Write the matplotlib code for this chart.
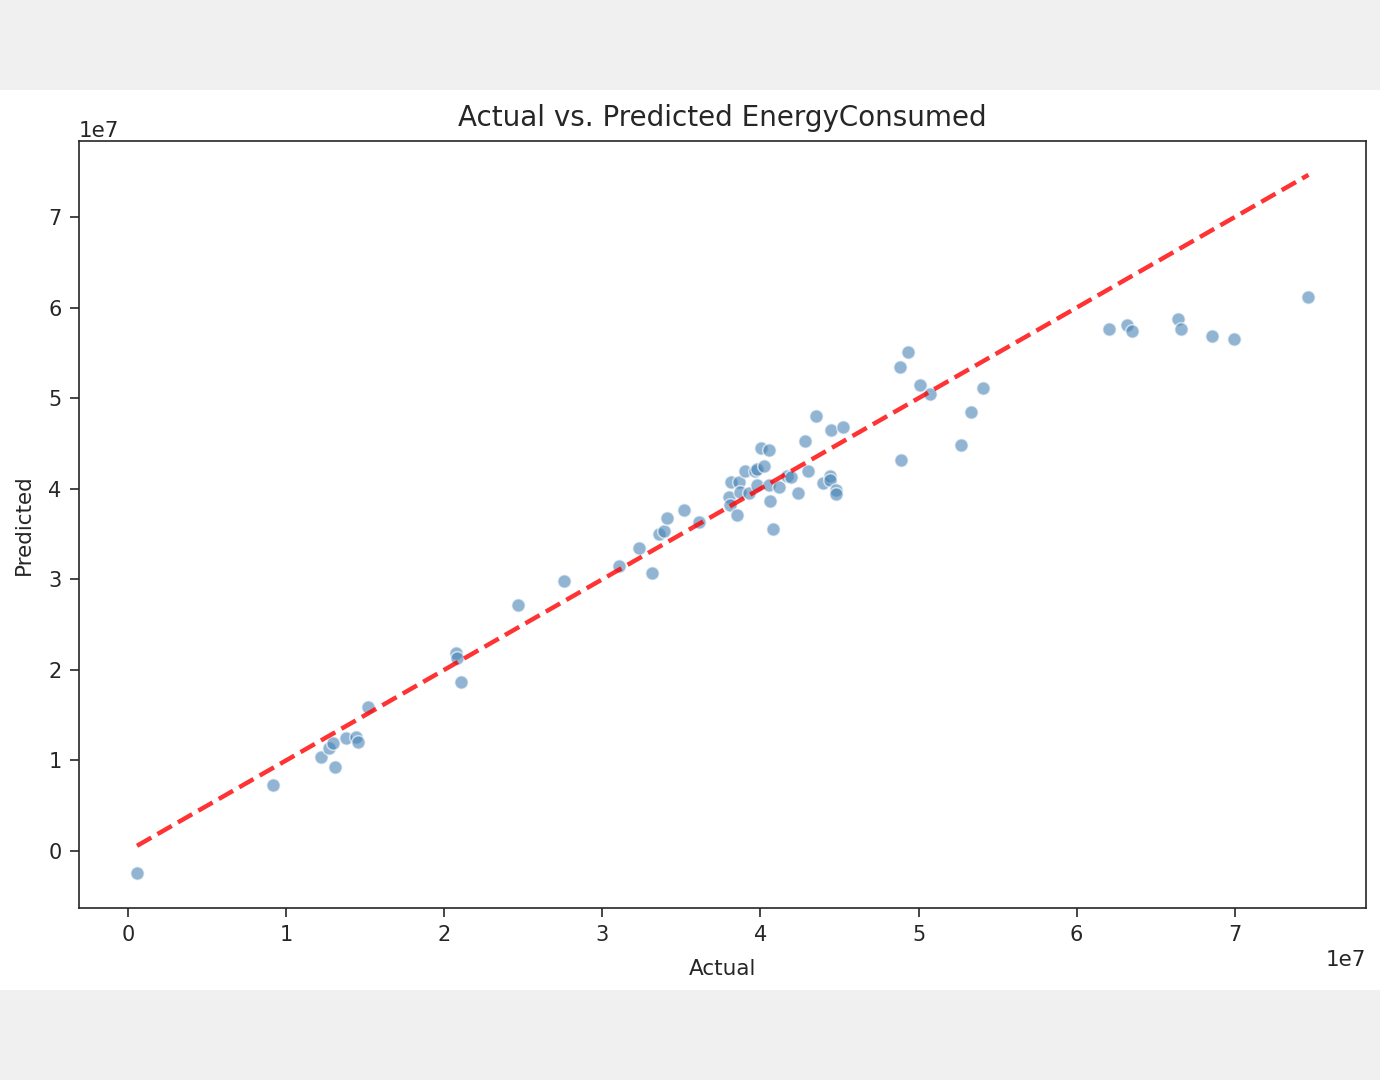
import matplotlib.pyplot as plt
import matplotlib.patches as patches
import numpy as np

# ---------- Data (units of 1e7) ----------
actual = [
    0.057, 0.916, 1.222, 1.274, 1.296, 1.310, 1.380, 1.443, 1.454, 1.515,
    2.074, 2.080, 2.106, 2.468, 2.759, 3.103, 3.314, 3.230, 3.357, 3.388,
    3.409, 3.515, 3.610, 3.799, 3.810, 3.852, 3.815, 3.865, 3.873, 3.926,
    3.901, 3.964, 3.979, 4.021, 3.979, 4.006, 4.053, 4.053, 4.116, 4.059,
    4.080, 4.170, 4.195, 4.238, 4.281, 4.302, 4.354, 4.397, 4.439, 4.443,
    4.475, 4.481, 4.449, 4.523, 4.934, 4.880, 5.006, 5.070, 5.407, 5.333,
    5.270, 4.890, 6.205, 6.321, 6.352, 6.643, 6.658, 6.859, 6.992, 7.466,
]
predicted = [
    -0.243, 0.729, 1.040, 1.133, 1.188, 0.931, 1.244, 1.262, 1.200, 1.593,
    2.182, 2.126, 1.861, 2.716, 2.981, 3.150, 3.073, 3.349, 3.495, 3.533,
    3.680, 3.765, 3.636, 3.911, 3.820, 3.710, 4.077, 4.077, 3.966, 3.948,
    4.196, 4.196, 4.213, 4.253, 4.041, 4.445, 4.427, 4.041, 4.023, 3.864,
    3.551, 4.145, 4.125, 3.948, 4.527, 4.196, 4.803, 4.059, 4.140, 4.096,
    3.986, 3.942, 4.648, 4.685, 5.513, 5.340, 5.145, 5.046, 5.108, 4.851,
    4.483, 4.317, 5.763, 5.808, 5.745, 5.874, 5.763, 5.689, 5.653, 6.113,
]
actual = np.array(actual) * 1e7
predicted = np.array(predicted) * 1e7

TEXT = "#262626"

# ---------- Figure ----------
fig = plt.figure(figsize=(13.8, 10.8), dpi=100)
fig.patch.set_facecolor("#f0f0f0")

# white "image" band in the middle
band = patches.Rectangle(
    (0, 90 / 1080), 1, 900 / 1080,
    transform=fig.transFigure, facecolor="white", edgecolor="none", zorder=-10
)
fig.add_artist(band)

ax = fig.add_axes([79 / 1380, 172 / 1080, 1287 / 1380, 767 / 1080])
ax.set_zorder(1)
ax.set_facecolor("white")

ax.scatter(actual, predicted, s=95, color="steelblue", alpha=0.6,
           edgecolors="white", linewidths=1.2, zorder=2)

lo, hi = actual.min(), actual.max()
ax.plot([lo, hi], [lo, hi], "--", color="red", alpha=0.8, lw=3.2, zorder=3)

ax.set_xlim(-0.31e7, 7.83e7)
ax.set_ylim(-0.63e7, 7.84e7)

ax.set_title("Actual vs. Predicted EnergyConsumed", fontsize=20, pad=11,
             color=TEXT)
ax.set_xlabel("Actual", fontsize=15.5, labelpad=10, color=TEXT)
ax.set_ylabel("Predicted", fontsize=15.5, labelpad=10, color=TEXT)
ax.tick_params(labelsize=15, length=6.5, width=1.2, pad=6,
               labelcolor=TEXT, color=TEXT)
ax.xaxis.get_offset_text().set_fontsize(15.5)
ax.yaxis.get_offset_text().set_fontsize(15.5)
ax.xaxis.get_offset_text().set_color(TEXT)
ax.yaxis.get_offset_text().set_color(TEXT)
for sp in ax.spines.values():
    sp.set_linewidth(1.2)
    sp.set_color(TEXT)

plt.savefig("out.png", dpi=100, facecolor=fig.get_facecolor())
